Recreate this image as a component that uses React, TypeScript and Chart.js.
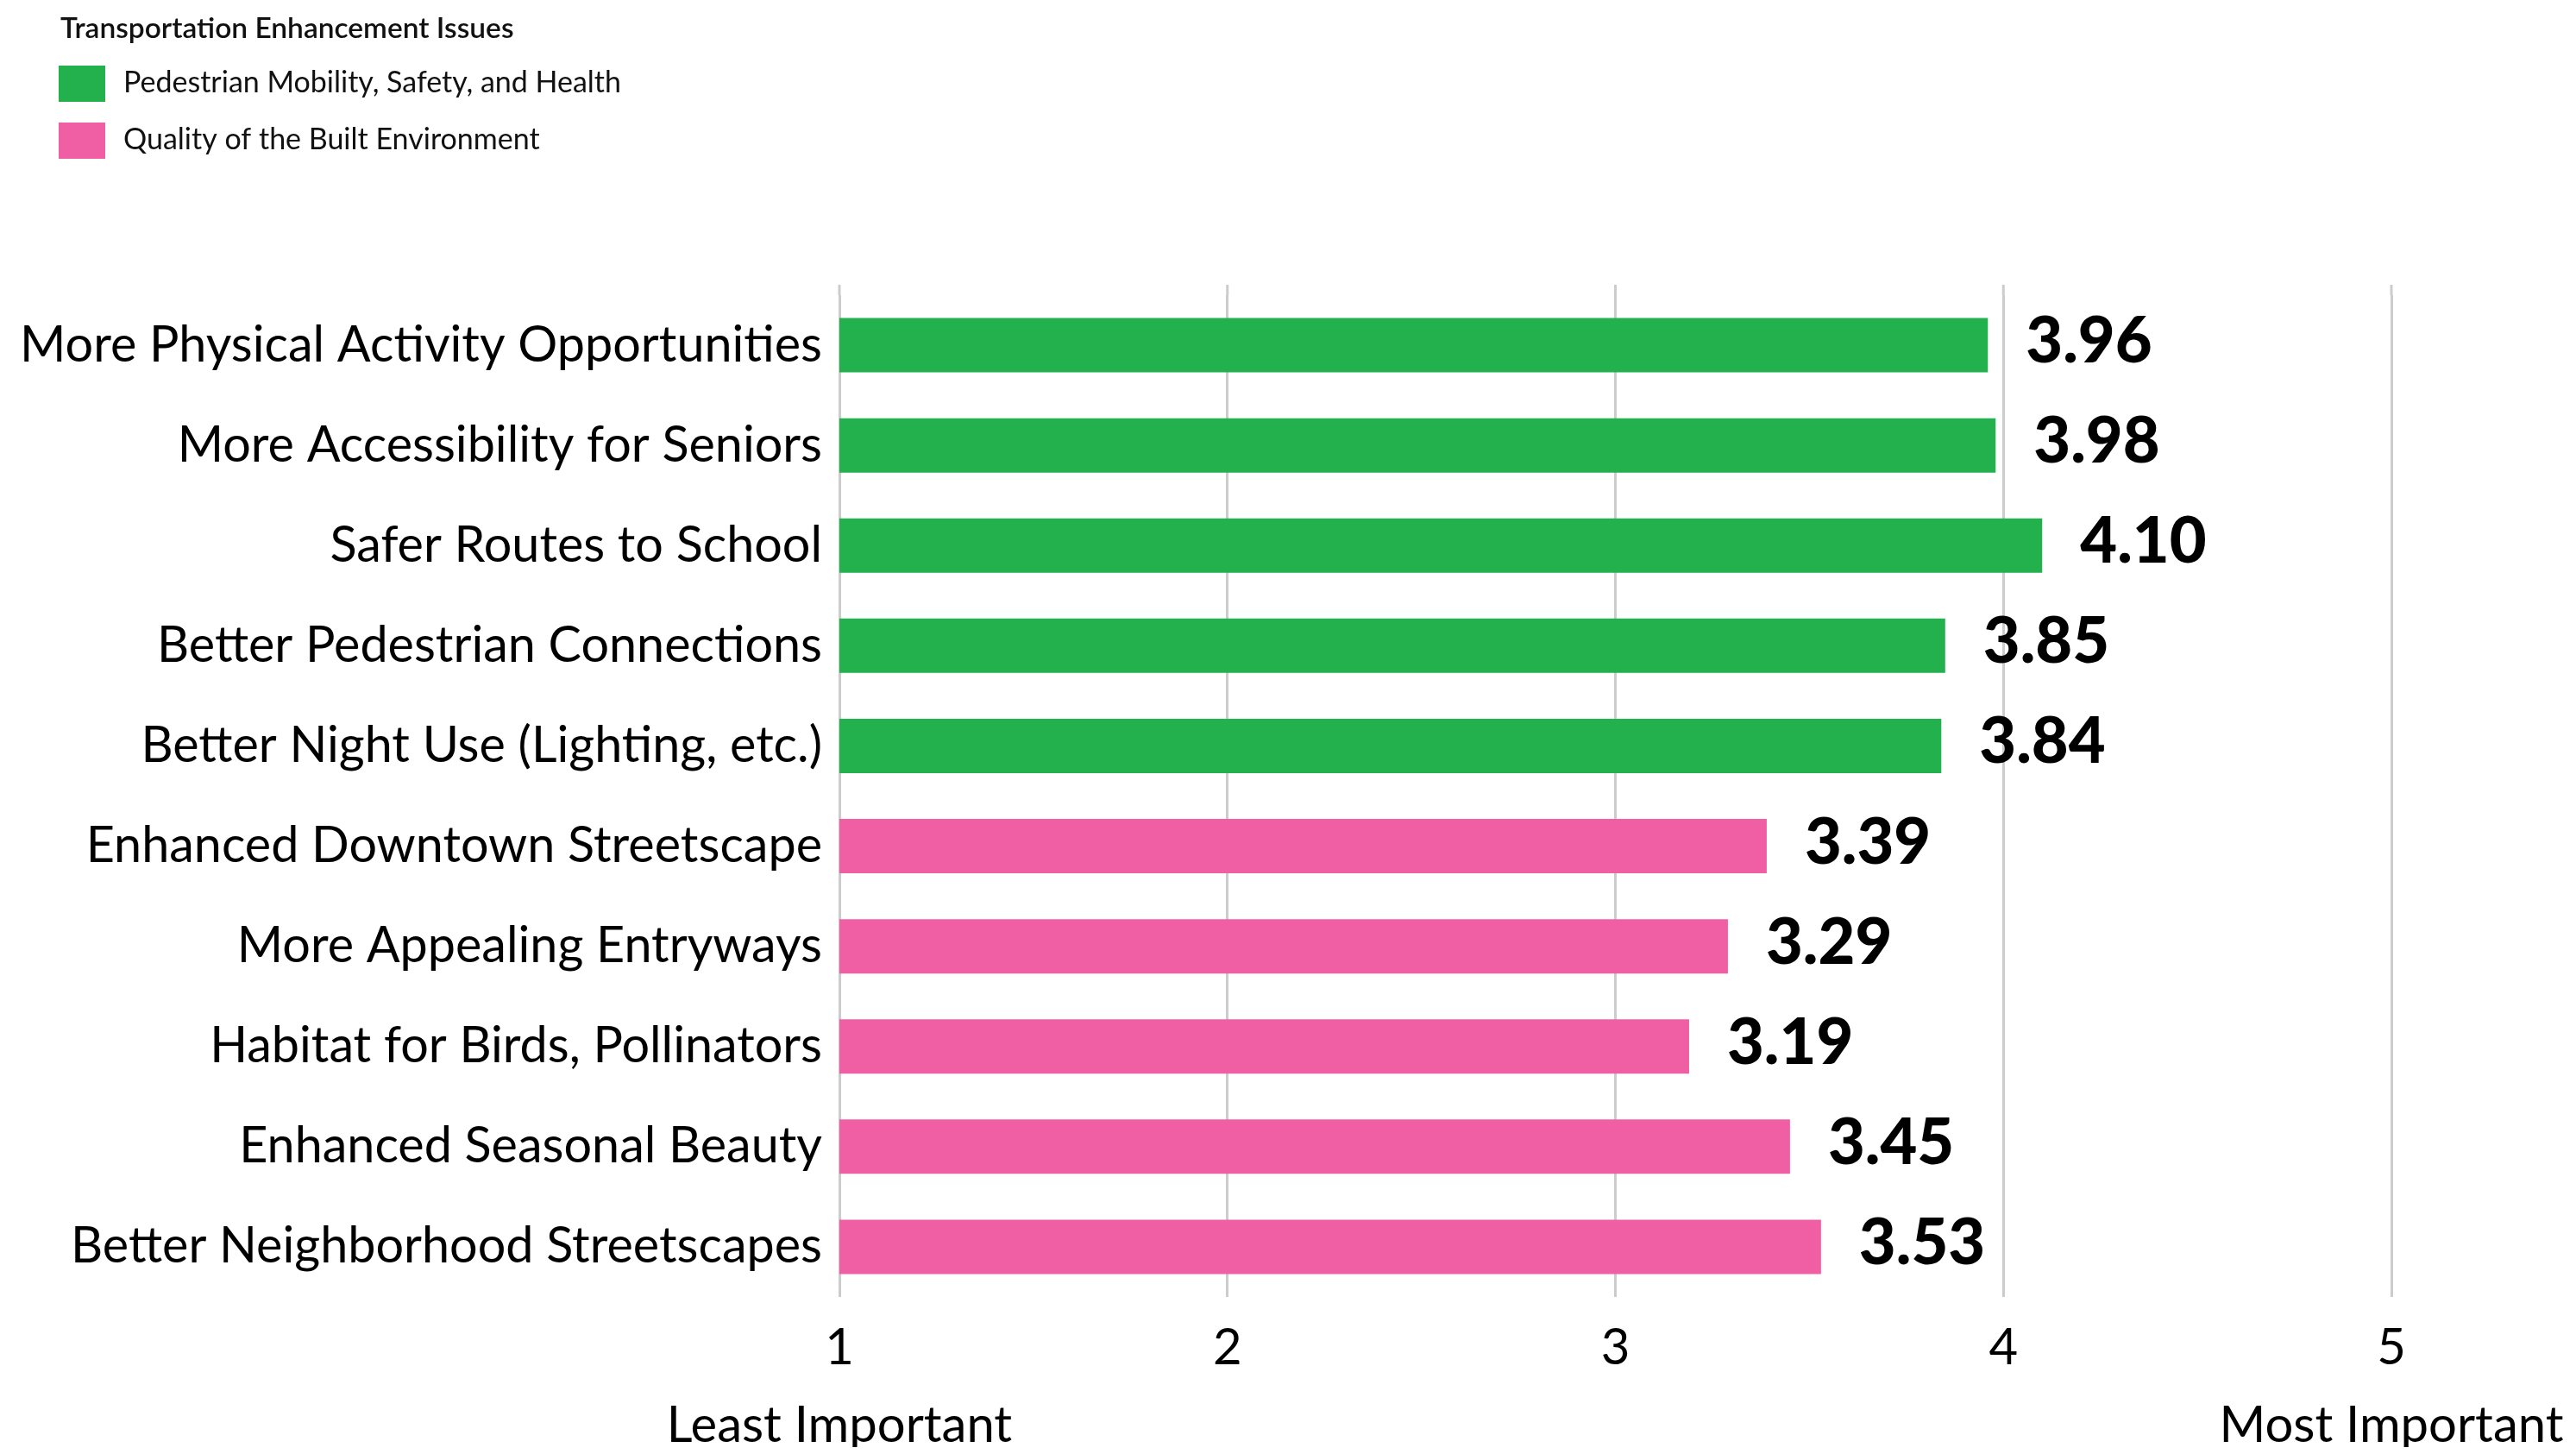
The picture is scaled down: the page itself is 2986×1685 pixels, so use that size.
import React, { useEffect, useRef } from "react";
import { Chart, registerables } from "chart.js";

Chart.register(...registerables);

const categories = [
  "More Physical Activity Opportunities",
  "More Accessibility for Seniors",
  "Safer Routes to School",
  "Better Pedestrian Connections",
  "Better Night Use (Lighting, etc.)",
  "Enhanced Downtown Streetscape",
  "More Appealing Entryways",
  "Habitat for Birds, Pollinators",
  "Enhanced Seasonal Beauty",
  "Better Neighborhood Streetscapes",
];

const pedestrianValues = [3.96, 3.98, 4.1, 3.85, 3.84, null, null, null, null, null];
const builtEnvironmentValues = [null, null, null, null, null, 3.39, 3.29, 3.19, 3.45, 3.53];

const seriesNames = ["Pedestrian Mobility, Safety, and Health", "Quality of the Built Environment"];
const seriesColors = ["#22B14C", "#F05FA4"];
const legendTitle = "Transportation Enhancement Issues";

const xTickValues = [1, 2, 3, 4, 5];
const xEndLabels: Record<number, string> = { 1: "Least Important", 5: "Most Important" };

const FONT = "Lato, 'Open Sans', sans-serif";

const legendPlugin = {
  id: "customLegend",
  afterDraw(chart: any) {
    const ctx = chart.ctx;
    ctx.save();
    ctx.fillStyle = "#111";
    ctx.textAlign = "left";
    ctx.textBaseline = "alphabetic";
    ctx.font = `600 33.5px ${FONT}`;
    ctx.fillText(legendTitle, 62, 36);
    chart.data.datasets.forEach((ds: any, i: number) => {
      const top = 68 + i * 66;
      ctx.fillStyle = ds.backgroundColor;
      ctx.fillRect(60, top, 54, 42);
      ctx.fillStyle = "#111";
      ctx.font = `34px ${FONT}`;
      ctx.fillText(ds.label, 135, top + 31);
    });
    ctx.restore();
  },
};

const gridExtendPlugin = {
  id: "gridExtend",
  beforeDatasetsDraw(chart: any) {
    const ctx = chart.ctx;
    const xs = chart.scales.x;
    const top = chart.chartArea.top;
    ctx.save();
    ctx.strokeStyle = "#CCCCCC";
    ctx.lineWidth = 3;
    xs.ticks.forEach((t: any) => {
      const px = xs.getPixelForValue(t.value);
      ctx.beginPath();
      ctx.moveTo(px, top - 12);
      ctx.lineTo(px, top);
      ctx.stroke();
    });
    ctx.restore();
  },
};

const valueLabelPlugin = {
  id: "valueLabels",
  afterDatasetsDraw(chart: any) {
    const ctx = chart.ctx;
    ctx.save();
    ctx.font = `900 74px ${FONT}`;
    ctx.fillStyle = "#000";
    ctx.textAlign = "left";
    ctx.textBaseline = "alphabetic";
    chart.data.datasets.forEach((ds: any, i: number) => {
      const meta = chart.getDatasetMeta(i);
      meta.data.forEach((bar: any, j: number) => {
        const v = ds.data[j];
        if (v == null) return;
        ctx.fillText(v.toFixed(2), bar.x + 44, bar.y + 20);
      });
    });
    ctx.restore();
  },
};

export default function App() {
  const canvasRef = useRef<HTMLCanvasElement | null>(null);

  useEffect(() => {
    if (!canvasRef.current) return;
    const chart = new Chart(canvasRef.current, {
      type: "bar",
      data: {
        labels: categories,
        datasets: [
          {
            label: seriesNames[0],
            data: pedestrianValues as any,
            backgroundColor: seriesColors[0],
            categoryPercentage: 1,
            barPercentage: 0.543,
            skipNull: true,
          } as any,
          {
            label: seriesNames[1],
            data: builtEnvironmentValues as any,
            backgroundColor: seriesColors[1],
            categoryPercentage: 1,
            barPercentage: 0.543,
            skipNull: true,
          } as any,
        ],
      },
      options: {
        indexAxis: "y",
        animation: false,
        responsive: true,
        maintainAspectRatio: false,
        layout: { padding: { top: 334, right: 206, left: 0, bottom: 0 } },
        plugins: {
          legend: { display: false },
          tooltip: { enabled: false },
        },
        scales: {
          x: {
            type: "linear",
            min: 1,
            max: 5,
            afterBuildTicks: (scale: any) => {
              scale.ticks = xTickValues.map((v) => ({ value: v }));
            },
            afterFit: (scale: any) => {
              scale.height = 174;
              scale.paddingLeft = 0;
              scale.paddingRight = 0;
            },
            grid: { color: "#CCCCCC", lineWidth: 3, drawTicks: false },
            border: { display: false },
            ticks: {
              autoSkip: false,
              maxRotation: 0,
              padding: 14,
              color: "#000",
              font: { family: FONT, size: 58, lineHeight: 1.55 },
              callback: (value: any) => {
                const v = Number(value);
                return xEndLabels[v] ? [String(v), xEndLabels[v]] : String(v);
              },
            },
          },
          y: {
            type: "category",
            stacked: true,
            afterFit: (scale: any) => {
              scale.width = 965;
            },
            grid: { display: false },
            border: { display: false },
            ticks: {
              padding: 12,
              color: "#000",
              font: { family: FONT, size: 57.5 },
              autoSkip: false,
            },
          },
        },
      } as any,
      plugins: [legendPlugin, gridExtendPlugin, valueLabelPlugin],
    });
    return () => chart.destroy();
  }, []);

  return (
    <div style={{ position: "relative", width: "100%", height: "1669px" }}>
      <canvas ref={canvasRef} />
    </div>
  );
}
